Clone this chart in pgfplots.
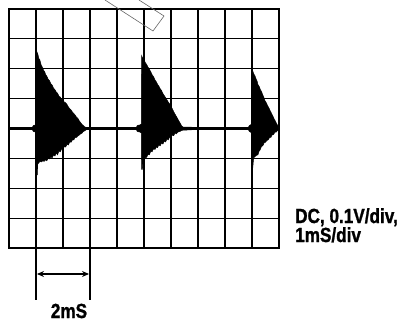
\documentclass[border=0pt]{standalone}
\usepackage{pgfplots}
\pgfplotsset{compat=1.18}
\usepackage{fontspec}
\setmainfont{Liberation Sans}[FakeStretch=0.84, BoldFeatures={FakeBold=1.2}]
\usetikzlibrary{arrows.meta}
\begin{document}
\begin{tikzpicture}
\path[use as bounding box] (-9bp,-74bp) rectangle (396bp,248bp);
\begin{axis}[
  at={(0,0)}, anchor=south west,
  scale only axis, width=270bp, height=239bp,
  xmin=0, xmax=10, ymin=-4, ymax=4,
  xtick={0,...,10}, ytick={-4,...,4},
  xticklabels={}, yticklabels={},
  major tick length=0pt,
  grid=major,
  grid style={black, line width=1.2pt},
  axis line style={black, line width=2.4pt},
]
% baseline trace
\addplot[black, line width=2.4pt] coordinates {(0,0) (10,0)};
% burst 1
\addplot[black, fill=black, line width=0.5pt] coordinates {
(0.85,0) (0.9,0.1) (1.0,0.12) (1.03,0.15) (1.04,2.55) (1.08,2.45) (1.1,2.35) (1.14,2.3)
(1.17,2.2) (1.2,2.1) (1.24,2.05) (1.28,1.95) (1.32,1.9) (1.36,1.8) (1.4,1.75) (1.45,1.65)
(1.5,1.6) (1.55,1.5) (1.6,1.45) (1.65,1.35) (1.7,1.3) (1.75,1.22) (1.8,1.18) (1.85,1.08)
(1.9,1.05) (1.95,0.98) (2.0,0.95) (2.05,0.88) (2.1,0.86) (2.15,0.8) (2.2,0.72) (2.25,0.66)
(2.3,0.62) (2.35,0.55) (2.4,0.5) (2.45,0.45) (2.5,0.38) (2.55,0.34) (2.6,0.26) (2.65,0.2)
(2.7,0.14) (2.75,0.1) (2.8,0.06) (2.88,0.02) (2.92,0)
(2.88,-0.03) (2.8,-0.08) (2.75,-0.1) (2.7,-0.16) (2.65,-0.18) (2.6,-0.22) (2.55,-0.25)
(2.5,-0.3) (2.45,-0.3) (2.4,-0.38) (2.35,-0.38) (2.3,-0.46) (2.25,-0.45) (2.2,-0.55)
(2.15,-0.52) (2.1,-0.62) (2.05,-0.6) (2.0,-0.7) (1.95,-0.68) (1.9,-0.78) (1.85,-0.75)
(1.8,-0.88) (1.75,-0.82) (1.7,-0.92) (1.65,-0.88) (1.6,-0.98) (1.55,-0.95) (1.5,-1.02)
(1.45,-1.0) (1.4,-1.08) (1.35,-1.05) (1.3,-1.1) (1.25,-1.08) (1.2,-1.12) (1.15,-1.1)
(1.1,-1.15) (1.06,-1.2) (1.05,-1.55) (1.03,-1.55) (1.03,-0.15) (1.0,-0.12) (0.9,-0.1) (0.85,0)
};
% burst 2
\addplot[black, fill=black, line width=0.5pt] coordinates {
(4.7,0) (4.75,0.1) (4.85,0.12) (4.9,0.15) (4.91,2.44) (4.95,2.36) (5.0,2.3) (5.05,2.2)
(5.1,2.14) (5.15,2.05) (5.2,1.98) (5.25,1.9) (5.3,1.8) (5.35,1.74) (5.41,1.62) (5.46,1.56)
(5.5,1.48) (5.55,1.42) (5.6,1.33) (5.65,1.27) (5.7,1.17) (5.78,1.06) (5.85,0.96) (5.9,0.88)
(5.95,0.82) (6.0,0.74) (6.05,0.66) (6.1,0.56) (6.15,0.48) (6.2,0.4) (6.25,0.32) (6.3,0.24)
(6.35,0.16) (6.4,0.08) (6.45,0.05) (6.6,0.05) (6.8,0.04) (6.9,0.02) (6.92,0)
(6.9,-0.02) (6.8,-0.04) (6.6,-0.05) (6.4,-0.06) (6.33,-0.1) (6.25,-0.12) (6.2,-0.18)
(6.15,-0.15) (6.1,-0.24) (6.04,-0.22) (6.0,-0.3) (5.95,-0.28) (5.9,-0.38) (5.85,-0.35)
(5.8,-0.45) (5.75,-0.42) (5.7,-0.52) (5.65,-0.48) (5.6,-0.58) (5.55,-0.55) (5.5,-0.64)
(5.45,-0.62) (5.41,-0.7) (5.35,-0.68) (5.3,-0.78) (5.25,-0.76) (5.2,-0.88) (5.15,-0.86)
(5.1,-0.96) (5.05,-0.98) (5.0,-1.08) (4.96,-1.12) (4.94,-1.37) (4.91,-1.37) (4.9,-0.15)
(4.85,-0.12) (4.75,-0.1) (4.7,0)
};
% burst 3
\addplot[black, fill=black, line width=0.5pt] coordinates {
(8.85,0) (8.9,0.1) (8.95,0.12) (8.98,0.15) (8.99,1.97) (9.03,1.92) (9.07,1.82) (9.11,1.76)
(9.15,1.66) (9.19,1.58) (9.22,1.47) (9.27,1.4) (9.31,1.3) (9.35,1.24) (9.4,1.12) (9.44,1.04)
(9.48,0.93) (9.53,0.86) (9.58,0.76) (9.62,0.7) (9.67,0.6) (9.7,0.55) (9.74,0.47) (9.78,0.4)
(9.82,0.32) (9.87,0.24) (9.93,0.13) (10.0,0.06) (10.0,-0.06)
(9.95,-0.06) (9.9,-0.12) (9.85,-0.12) (9.8,-0.2) (9.74,-0.22) (9.7,-0.3) (9.65,-0.3)
(9.6,-0.38) (9.55,-0.4) (9.5,-0.46) (9.45,-0.48) (9.4,-0.58) (9.35,-0.6) (9.3,-0.72)
(9.26,-0.76) (9.22,-0.88) (9.16,-0.9) (9.1,-0.95) (9.06,-0.98) (9.03,-1.3) (9.0,-1.3)
(8.98,-0.15) (8.95,-0.12) (8.9,-0.1) (8.85,0)
};
\end{axis}
% thicker division lines extended below the screen for the time marker
\draw[black, line width=1.6pt] (27bp,239bp) -- (27bp,-52bp);
\draw[black, line width=1.6pt] (81bp,239bp) -- (81bp,-52bp);
\draw[black, line width=1.6pt, {Stealth[length=7bp,width=6bp]}-{Stealth[length=7bp,width=6bp]}] (28bp,-26bp) -- (80bp,-26bp);
\node[anchor=base, inner sep=0pt, font=\fontsize{20.5}{22}\selectfont\bfseries] at (60bp,-70bp) {2mS};
\node[anchor=base west, inner sep=0pt, font=\fontsize{20.5}{22}\selectfont\bfseries] at (286bp,25bp) {DC, 0.1V/div,};
\node[anchor=base west, inner sep=0pt, font=\fontsize{20.5}{22}\selectfont\bfseries] at (286bp,6bp) {1mS/div};
% probe outline at the top
\draw[black!60, line width=0.6bp] (96bp,248bp) -- (144bp,217bp) -- (155bp,232bp) -- (130bp,248bp);
\end{tikzpicture}
\end{document}
